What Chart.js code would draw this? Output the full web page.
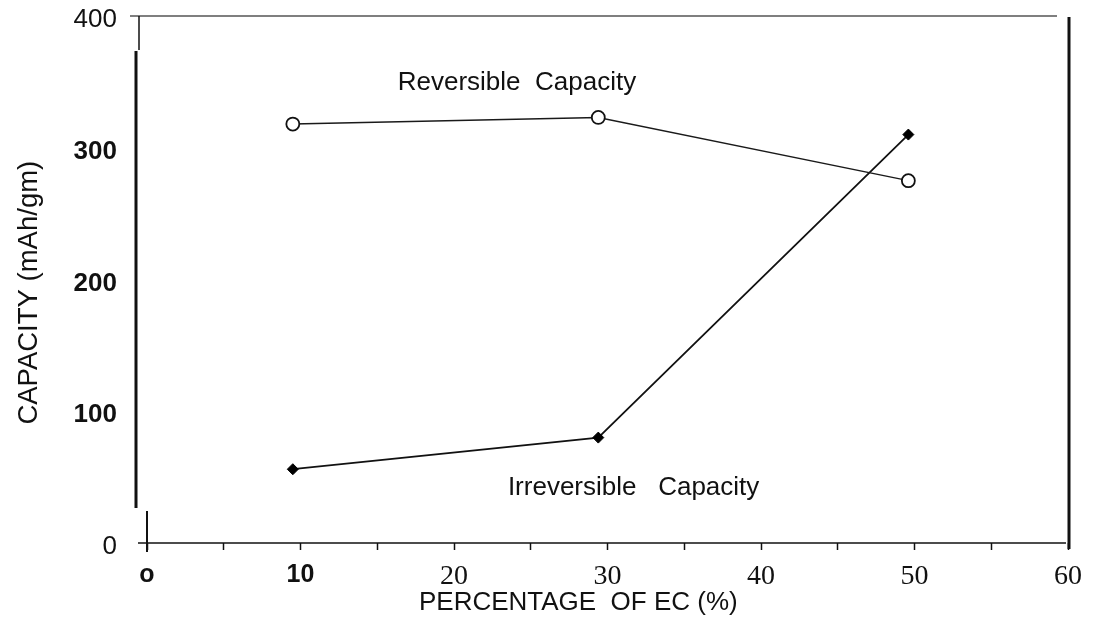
<!DOCTYPE html>
<html>
<head>
<meta charset="utf-8">
<title>Capacity vs EC content</title>
<script src="https://cdn.jsdelivr.net/npm/chart.js@4/dist/chart.umd.min.js"></script>
<style>
  html, body { margin: 0; padding: 0; background: #fff; }
  canvas { display: block; }
</style>
</head>
<body>
<canvas id="capchart" width="1093" height="633"></canvas>
<script>
// EC content of the electrolyte (%) and measured capacities (mAh/gm)
var ecPercent = [9.5, 29.4, 49.6];
var reversible = [318, 323, 275];
var irreversible = [56, 80, 310];

var xTickLabels = { 0: 'o', 10: '10', 20: '20', 30: '30', 40: '40', 50: '50', 60: '60' };
var yTickLabels = { 0: '0', 100: '100', 200: '200', 300: '300', 400: '400' };

var SANS = '"Liberation Sans", Arial, sans-serif';
var SERIF = '"Liberation Serif", "Times New Roman", serif';

function points(ys) {
  return ecPercent.map(function (x, i) { return { x: x, y: ys[i] }; });
}

// frame lines, curve captions and axis titles
var framePlugin = {
  id: 'frame',
  beforeDatasetsDraw: function (chart) {
    var ctx = chart.ctx, a = chart.chartArea;
    ctx.save();
    ctx.lineCap = 'butt';

    // top edge, thin and faint
    ctx.strokeStyle = '#555';
    ctx.lineWidth = 1.5;
    ctx.beginPath();
    ctx.moveTo(a.left - 17, a.top);
    ctx.lineTo(a.right - 11, a.top);
    ctx.stroke();

    ctx.strokeStyle = '#111';
    // bottom axis
    ctx.lineWidth = 1.6;
    ctx.beginPath();
    ctx.moveTo(a.left - 9, a.bottom);
    ctx.lineTo(a.right - 2, a.bottom);
    ctx.stroke();

    // left side: short thin piece, long heavy bar, stub at the origin
    ctx.lineWidth = 1.5;
    ctx.beginPath();
    ctx.moveTo(a.left - 8, a.top);
    ctx.lineTo(a.left - 8, a.top + 34);
    ctx.stroke();

    ctx.lineWidth = 3;
    ctx.beginPath();
    ctx.moveTo(a.left - 11, a.top + 35);
    ctx.lineTo(a.left - 11, a.bottom - 35);
    ctx.stroke();

    ctx.lineWidth = 2;
    ctx.beginPath();
    ctx.moveTo(a.left, a.bottom - 32);
    ctx.lineTo(a.left, a.bottom + 9);
    ctx.stroke();

    // right side heavy bar
    ctx.lineWidth = 3;
    ctx.beginPath();
    ctx.moveTo(a.right + 1, a.top + 1);
    ctx.lineTo(a.right + 1, a.bottom + 6);
    ctx.stroke();
    ctx.restore();
  },
  afterDraw: function (chart) {
    var ctx = chart.ctx, a = chart.chartArea;
    var x = chart.scales.x, y = chart.scales.y;
    ctx.save();
    ctx.fillStyle = '#111';
    ctx.textAlign = 'center';
    ctx.textBaseline = 'middle';
    ctx.font = '26px ' + SANS;

    ctx.fillText('Reversible  Capacity', x.getPixelForValue(24.1), y.getPixelForValue(349));
    ctx.fillText('Irreversible   Capacity', x.getPixelForValue(31.7), y.getPixelForValue(42));

    ctx.fillText('PERCENTAGE  OF EC (%)', x.getPixelForValue(28.1), a.bottom + 60);

    ctx.font = '27.5px ' + SANS;
    ctx.translate(29, y.getPixelForValue(190));
    ctx.rotate(-Math.PI / 2);
    ctx.fillText('CAPACITY (mAh/gm)', 0, 0);
    ctx.restore();
  }
};

var ctx = document.getElementById('capchart').getContext('2d');
var capChart = new Chart(ctx, {
  type: 'line',
  data: {
    datasets: [{
      label: 'Reversible Capacity',
      data: points(reversible),
      borderColor: '#1a1a1a',
      borderWidth: 1.4,
      pointStyle: 'circle',
      pointRadius: 6.5,
      pointBorderWidth: 1.8,
      pointBorderColor: '#111',
      pointBackgroundColor: '#fff',
      tension: 0
    }, {
      label: 'Irreversible Capacity',
      data: points(irreversible),
      borderColor: '#111',
      borderWidth: 1.8,
      pointStyle: 'rectRot',
      pointRadius: 5.5,
      pointBorderWidth: 1,
      pointBorderColor: '#000',
      pointBackgroundColor: '#000',
      tension: 0
    }]
  },
  options: {
    responsive: false,
    animation: false,
    layout: { padding: { top: 16, right: 25, left: 0, bottom: 0 } },
    plugins: {
      legend: { display: false },
      tooltip: { enabled: false }
    },
    scales: {
      x: {
        type: 'linear',
        min: 0,
        max: 60,
        border: { display: false },
        grid: {
          drawOnChartArea: false,
          drawTicks: true,
          tickLength: 7,
          tickWidth: 1.5,
          tickColor: '#111'
        },
        ticks: {
          stepSize: 5,
          autoSkip: false,
          maxRotation: 0,
          padding: 10,
          color: '#111',
          font: function (c) {
            var v = c.tick ? c.tick.value : 0;
            if (v === 0 || v === 10) return { family: SANS, size: 25, weight: 'bold' };
            return { family: SERIF, size: 28 };
          },
          callback: function (v) {
            return xTickLabels[v] !== undefined ? xTickLabels[v] : '';
          }
        },
        afterFit: function (s) { s.height = 90; }
      },
      y: {
        type: 'linear',
        min: 0,
        max: 400,
        border: { display: false },
        grid: { display: false, drawTicks: false },
        ticks: {
          stepSize: 100,
          padding: 30,
          labelOffset: 4,
          color: '#111',
          font: function (c) {
            var v = c.tick ? c.tick.value : 0;
            if (v === 100 || v === 200 || v === 300) return { family: SANS, size: 26, weight: 'bold', lineHeight: 1 };
            return { family: SANS, size: 26, lineHeight: 1 };
          },
          callback: function (v) { return yTickLabels[v]; }
        },
        afterFit: function (s) {
          s.width = 147;
          // labels sit beside the axis, no extra room above or below
          s.paddingTop = 0;
          s.paddingBottom = 0;
        }
      }
    }
  },
  plugins: [framePlugin]
});
</script>
</body>
</html>
